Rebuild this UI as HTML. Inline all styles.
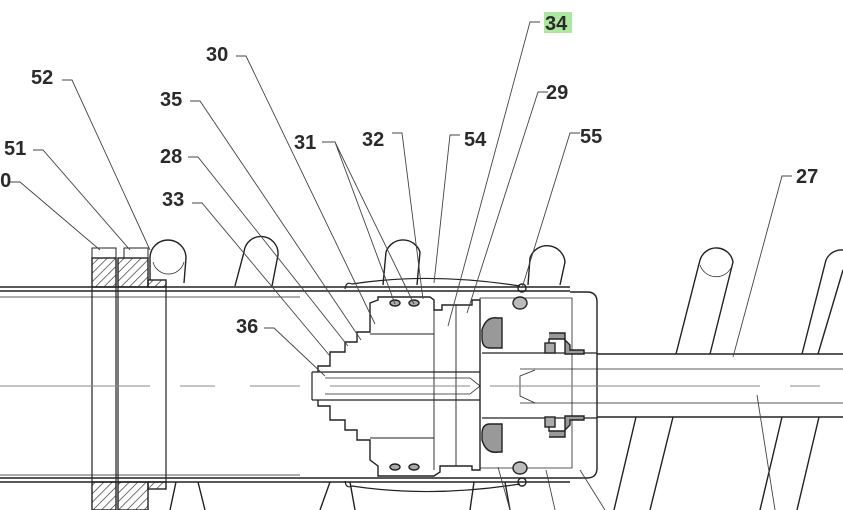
<!DOCTYPE html>
<html><head><meta charset="utf-8"><style>
html,body{margin:0;padding:0;background:#fff;}
svg{display:block}
text{font-family:"Liberation Sans",sans-serif;font-weight:bold;font-size:20px;fill:#2a2a2a}
</style></head><body>
<svg width="843" height="510" viewBox="0 0 843 510" xmlns="http://www.w3.org/2000/svg">
<defs>
<pattern id="h" width="6" height="6" patternUnits="userSpaceOnUse" patternTransform="rotate(45)">
<line x1="0" y1="0" x2="0" y2="6" stroke="#222" stroke-width="1.3"/></pattern>
</defs>
<g fill="none" stroke="#222" stroke-width="1.4">
<!-- springs top -->
<path d="M150 280 L150 258 A18 18 0 1 1 186 258 L184 283"/>
<path d="M153 262 A16 16 0 0 0 184 262" stroke-width="0.7"/>
<path d="M235 286 L244 252 A17 17 0 0 1 278 255 L272 286"/>
<path d="M383 285 L386 252 A18 18 0 0 1 420 252 L417 285"/>
<path d="M528 285 L530 258 A18 18 0 0 1 565 262 L560 285"/>
<path d="M676 354 L700 260 A17 17 0 0 1 733 262 L710 354"/>
<path d="M700 265 A17 17 0 0 0 731 268" stroke-width="0.7"/>
<path d="M802 354 L826 260 A17 17 0 0 1 843 250"/>
<path d="M818 354 L843 270"/>
<!-- springs bottom -->
<path d="M614 510 L636 417 M650 510 L673 417"/>
<path d="M760 510 L782 417 M797 510 L819 417"/>
<path d="M170 510 L176 482 M205 510 L198 482 M320 510 L330 482 M355 510 L350 482"/>
<path d="M470 510 L474 482 M510 510 L505 482"/>
<!-- tube -->
<path d="M0 287 H570 M0 291 H570"/>
<path d="M0 297 H300" stroke-width="0.7"/>
<path d="M0 478 H570 M0 482 H570"/>
<path d="M0 475 H300" stroke-width="0.7"/>
<path d="M345 289 Q346 281 352 284 Q430 272 520 286" stroke-width="1.2"/>
<path d="M345 481 Q346 489 352 486 Q430 498 520 484" stroke-width="1.2"/>
<!-- rings -->
<rect x="92" y="248" width="24" height="10" stroke-width="1"/>
<rect x="124" y="248" width="24" height="10" stroke-width="1"/>
<rect x="92" y="258" width="24" height="29" fill="url(#h)"/>
<rect x="118" y="258" width="30" height="29" fill="url(#h)"/>
<rect x="148" y="280" width="18" height="7" fill="url(#h)"/>
<rect x="92" y="482" width="24" height="28" fill="url(#h)"/>
<rect x="118" y="482" width="30" height="28" fill="url(#h)"/>
<rect x="148" y="482" width="18" height="7" fill="url(#h)"/>
<path d="M92 287 V482 M116 287 V482 M118 287 V482 M166 287 V482" stroke-width="1.2"/>
<!-- housing -->
<path d="M570 292 H587 Q597 292 597 302 V468 Q597 478 587 478 H570"/>
<path d="M480 298 H572 V468 H480 Z" stroke-width="0.8"/>
<path d="M482 353 H597 M482 418 H597" stroke-width="1.2"/>
<!-- rod -->
<path d="M597 354 H843 M597 417 H843"/>
<path d="M520 369 H843 M520 403 H843" stroke-width="0.8"/>
<!-- piston/body -->
<path d="M318 372 V366 H330 V352 H345 V342 H357 V332 H370 V303 L378 300 V297 H430 L434 300 V310 H442 V305 H472 V300 H480 V470 H472 V466 H440 V472 L434 476 H378 V466 L370 460 V440 H357 V430 H345 V420 H330 V406 H318 V400"/>
<path d="M370 334 H434 M370 372 H480 M370 400 H480 M370 438 H434 M434 303 V470 M456 305 V466" stroke-width="0.9"/>
<path d="M312 372 H480 M312 400 H480 M312 372 V400" stroke-width="1.2"/>
<path d="M325 378 H470 L480 386 L470 394 H325" stroke-width="0.8"/>
<path d="M535 370 L520 376 V396 L535 403" stroke-width="0.8"/>
<!-- seals -->
<path d="M482 330 Q486 316 498 318 H502 V348 H490 Q482 348 482 338 Z" fill="#999"/>
<path d="M482 440 Q486 454 498 452 H502 V424 H490 Q482 424 482 434 Z" fill="#999"/>
<ellipse cx="520" cy="303" rx="7" ry="6" fill="#bbb"/>
<ellipse cx="520" cy="468" rx="7" ry="6" fill="#bbb"/>
<path d="M549 350 V339 H564 L570 345 V350 H584 V354 H565 V333 H549" fill="#999"/>
<path d="M549 420 V431 H564 L570 425 V420 H584 V416 H565 V437 H549" fill="#999"/>
<rect x="545" y="343" width="10" height="10" fill="#aaa"/>
<rect x="545" y="417" width="10" height="10" fill="#aaa"/>
<ellipse cx="395" cy="303" rx="5" ry="3" fill="#aaa"/>
<ellipse cx="414" cy="303" rx="5" ry="3" fill="#aaa"/>
<ellipse cx="395" cy="467" rx="5" ry="3" fill="#aaa"/>
<ellipse cx="414" cy="467" rx="5" ry="3" fill="#aaa"/>
<circle cx="522" cy="288" r="4"/>
<circle cx="522" cy="482" r="4"/>
</g>
<!-- centerline -->
<path d="M0 386 H150 M180 386 H215 M250 386 H300 M330 386 H470 M490 386 H760 M790 386 H820" stroke="#888" stroke-width="1"/>
<!-- leaders -->
<g fill="none" stroke="#444" stroke-width="0.9">
<path d="M62 80 H72 L150 250"/>
<path d="M33 150 H43 L130 250"/>
<path d="M8 182 H20 L100 250"/>
<path d="M236 56 H246 L375 324"/>
<path d="M190 101 H200 L361 340"/>
<path d="M188 157 H198 L348 346"/>
<path d="M192 203 H202 L330 356"/>
<path d="M264 328 H274 L325 376"/>
<path d="M322 142 H335 L395 304 M335 142 L414 304"/>
<path d="M392 133 H402 L423 299"/>
<path d="M460 135 H450 L434 283"/>
<path d="M540 22 H530 L448 326"/>
<path d="M548 92 H538 L467 313"/>
<path d="M580 133 H570 L522 288"/>
<path d="M792 176 H782 L733 357"/>
<path d="M757 395 L775 510"/>
<path d="M498 467 L510 510 M546 470 L555 510 M580 470 L605 510"/>
</g>
<rect x="544" y="12" width="28" height="21" fill="#aee8a0"/>
<text x="31" y="84">52</text>
<text x="4" y="155">51</text>
<text x="-11" y="187">50</text>
<text x="206" y="61">30</text>
<text x="160" y="106">35</text>
<text x="160" y="163">28</text>
<text x="162" y="206">33</text>
<text x="236" y="333">36</text>
<text x="294" y="149">31</text>
<text x="362" y="146">32</text>
<text x="464" y="146">54</text>
<text x="545" y="30">34</text>
<text x="546" y="99">29</text>
<text x="580" y="143">55</text>
<text x="796" y="183">27</text>
</svg>
</body></html>
